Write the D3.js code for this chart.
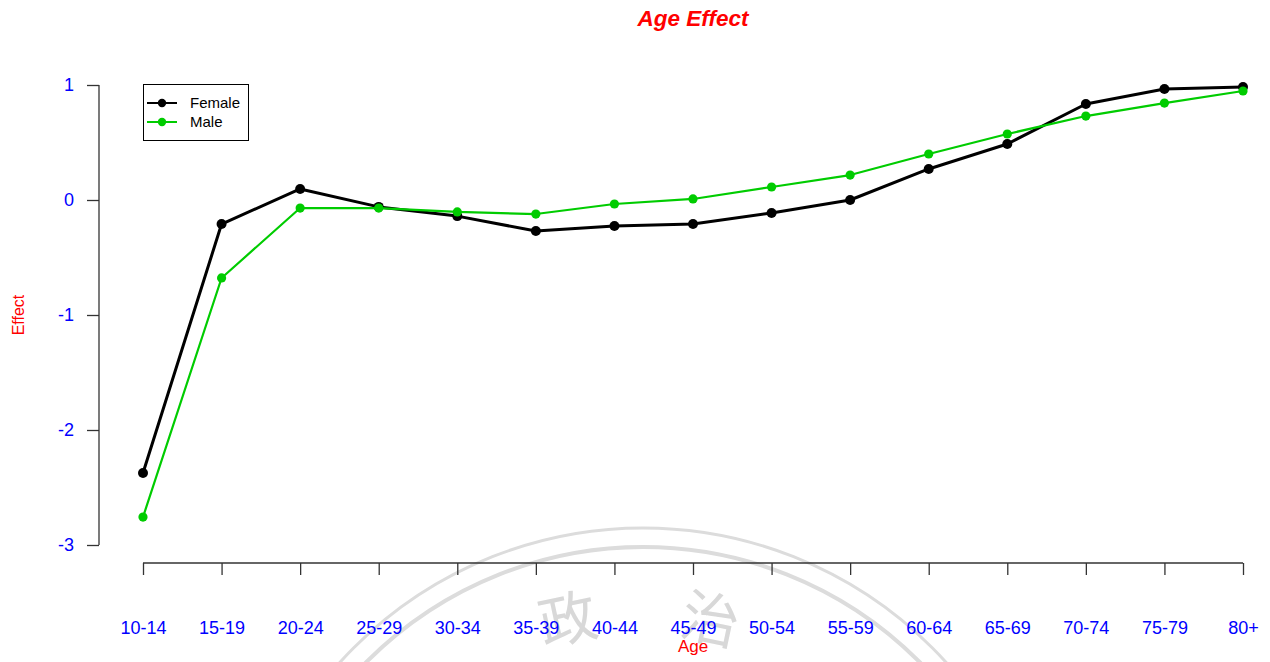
<!DOCTYPE html>
<html>
<head>
<meta charset="utf-8">
<script src="https://cdn.jsdelivr.net/npm/d3@7"></script>
<style>
  body { margin: 0; background: #fff; }
  text { font-family: "Liberation Sans", Arial, sans-serif; }
</style>
</head>
<body>
<div id="chart"></div>
<script>
// data
var ageGroups = ["10-14", "15-19", "20-24", "25-29", "30-34", "35-39", "40-44", "45-49",
                 "50-54", "55-59", "60-64", "65-69", "70-74", "75-79", "80+"];
var female = [-2.374, -0.209, 0.096, -0.06, -0.14, -0.27, -0.226, -0.209,
              -0.113, 0.0, 0.27, 0.487, 0.835, 0.965, 0.983];
var male = [-2.757, -0.678, -0.07, -0.07, -0.104, -0.122, -0.035, 0.009,
            0.113, 0.217, 0.4, 0.574, 0.73, 0.843, 0.948];
var yTicks = [1, 0, -1, -2, -3];

var W = 1270, H = 662;
var svg = d3.select("#chart").append("svg")
    .attr("width", W)
    .attr("height", H);

// faint watermark behind the plot
var wm = svg.append("g").attr("class", "watermark");
wm.append("circle").attr("cx", 643).attr("cy", 937).attr("r", 409)
    .attr("fill", "none").attr("stroke", "#dcdcdc").attr("stroke-width", 3);
wm.append("circle").attr("cx", 643).attr("cy", 937).attr("r", 390)
    .attr("fill", "none").attr("stroke", "#dcdcdc").attr("stroke-width", 4);
var wmChars = [["政", 572, 640, -12], ["治", 706, 640, 12]];
wm.selectAll("text.wm")
    .data(wmChars)
    .enter()
    .append("text")
    .attr("class", "wm")
    .attr("transform", function (d) { return "translate(" + d[1] + "," + d[2] + ") rotate(" + d[3] + ")"; })
    .attr("text-anchor", "middle")
    .style("font-family", "'Noto Sans CJK TC', sans-serif")
    .style("font-size", "58px")
    .attr("fill", "#d8d8d8")
    .text(function (d) { return d[0]; });

var x = d3.scalePoint()
    .domain(ageGroups)
    .range([143, 1243]);

var y = d3.scaleLinear()
    .domain([-3, 1])
    .range([545, 85]);

// y axis
var yAxis = svg.append("g")
    .attr("transform", "translate(99,0)")
    .call(d3.axisLeft(y).tickValues(yTicks).tickSize(12).tickPadding(13));
yAxis.select(".domain").attr("d", "M0," + y(1) + "V" + y(-3)).attr("stroke", "#333").attr("stroke-width", 1.3);
yAxis.selectAll(".tick line").attr("stroke", "#333").attr("stroke-width", 1.3);
yAxis.selectAll(".tick text").attr("fill", "#0000ff").style("font-size", "18px")
    .style("font-family", "'Liberation Sans', Arial, sans-serif").text(function (d) { return String(d); });

// x axis
var xAxis = svg.append("g")
    .attr("transform", "translate(0,563)")
    .call(d3.axisBottom(x).tickSize(12).tickPadding(46));
xAxis.select(".domain").attr("d", "M143,0H1243").attr("stroke", "#333").attr("stroke-width", 1.3);
xAxis.selectAll(".tick line").attr("stroke", "#333").attr("stroke-width", 1.3);
xAxis.selectAll(".tick text").attr("fill", "#0000ff").style("font-size", "18px")
    .style("font-family", "'Liberation Sans', Arial, sans-serif");

// series
var series = [
    {name: "Female", values: female, color: "#000000", width: 3},
    {name: "Male", values: male, color: "#00cc00", width: 2.2}
];

var line = d3.line()
    .x(function (d, i) { return x(ageGroups[i]); })
    .y(function (d) { return y(d); });

series.forEach(function (s) {
    svg.append("path")
        .datum(s.values)
        .attr("fill", "none")
        .attr("stroke", s.color)
        .attr("stroke-width", s.width)
        .attr("stroke-linejoin", "round")
        .attr("d", line);
    svg.selectAll(".pt-" + s.name)
        .data(s.values)
        .enter()
        .append("circle")
        .attr("class", "pt-" + s.name)
        .attr("cx", function (d, i) { return x(ageGroups[i]); })
        .attr("cy", function (d) { return y(d); })
        .attr("r", s.name === "Female" ? 5 : 4.6)
        .attr("fill", s.color);
});

// legend
var legend = svg.append("g").attr("class", "legend");
legend.append("rect")
    .attr("x", 143.5).attr("y", 84.5)
    .attr("width", 105).attr("height", 56)
    .attr("fill", "#fff").attr("stroke", "#000").attr("stroke-width", 1);
var items = legend.selectAll(".item")
    .data(series)
    .enter()
    .append("g")
    .attr("transform", function (d, i) { return "translate(0," + (103 + i * 19) + ")"; });
items.append("line")
    .attr("x1", 147).attr("x2", 177).attr("y1", 0).attr("y2", 0)
    .attr("stroke", function (d) { return d.color; })
    .attr("stroke-width", 2);
items.append("circle")
    .attr("cx", 162).attr("cy", 0).attr("r", 4.2)
    .attr("fill", function (d) { return d.color; });
items.append("text")
    .attr("x", 190).attr("y", 5)
    .style("font-size", "15px")
    .text(function (d) { return d.name; });

// titles
svg.append("text")
    .attr("x", 693).attr("y", 26)
    .attr("text-anchor", "middle")
    .attr("fill", "#ff0000")
    .style("font-size", "22.5px")
    .style("font-weight", "bold")
    .style("font-style", "italic")
    .text("Age Effect");

svg.append("text")
    .attr("x", 693).attr("y", 652)
    .attr("text-anchor", "middle")
    .attr("fill", "#ff0000")
    .style("font-size", "17px")
    .text("Age");

svg.append("text")
    .attr("transform", "translate(24,315) rotate(-90)")
    .attr("text-anchor", "middle")
    .attr("fill", "#ff0000")
    .style("font-size", "16px")
    .text("Effect");
</script>
</body>
</html>
